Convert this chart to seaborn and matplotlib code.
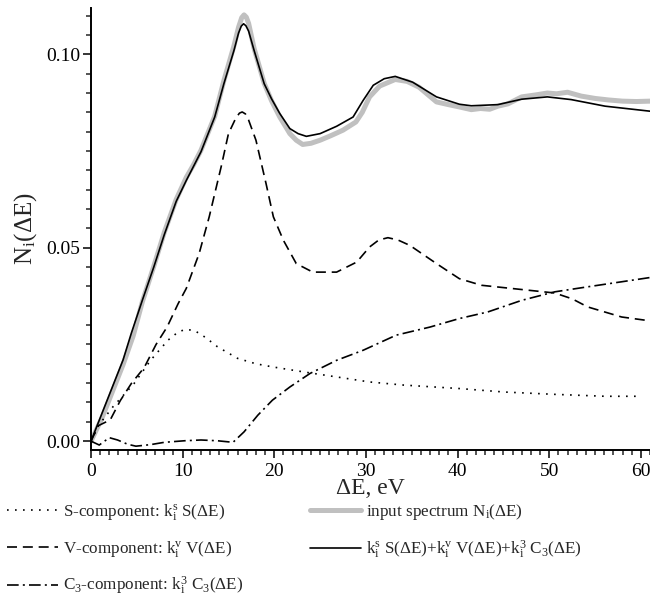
import matplotlib
matplotlib.use("Agg")
import matplotlib.pyplot as plt
import seaborn as sns
from matplotlib.ticker import MultipleLocator, FormatStrFormatter

# === Data (energy loss in eV, intensity) ===
E_fit = [0, 1.2, 2.5, 3.5, 4.4, 5.6, 6.85, 8.0, 9.3, 10.4, 12.0, 13.5, 14.5, 15.6,
         16.1, 16.4, 16.65, 16.9, 17.2, 17.8, 18.9, 19.7, 20.6, 21.7, 22.6, 23.5,
         25.0, 26.8, 28.6, 29.7, 30.8, 32.0, 33.2, 35.1, 37.7, 40.2, 41.5, 44.4,
         47.0, 49.8, 52.4, 56.1, 61.0]
N_fit = [0, 0.0072, 0.015, 0.021, 0.0279, 0.0364, 0.045, 0.0534, 0.062, 0.0674,
         0.0748, 0.0838, 0.0924, 0.101, 0.1055, 0.1073, 0.1079, 0.1074, 0.1060,
         0.101, 0.0924, 0.0885, 0.0847, 0.0808, 0.0795, 0.0788, 0.0795, 0.0814,
         0.0838, 0.0881, 0.0920, 0.0937, 0.0943, 0.0928, 0.0890, 0.0871, 0.0867,
         0.0870, 0.0884, 0.0890, 0.0883, 0.0866, 0.0853]

E_in = [0, 1.2, 2.5, 3.5, 4.6, 5.6, 6.85, 8.0, 9.3, 10.4, 11.2, 12.0, 13.5, 14.5,
        15.6, 16.1, 16.45, 16.7, 16.95, 17.2, 17.8, 18.9, 19.7, 20.6, 21.7, 22.4,
        23.1, 24.0, 25.0, 26.2, 27.5, 28.9, 29.6, 30.4, 31.5, 33.2, 34.5, 35.8,
        37.7, 39.0, 40.2, 41.5, 42.5, 43.5, 44.4, 45.5, 47.0, 48.5, 49.8, 50.8,
        52.0, 53.5, 55.0, 56.5, 58.0, 59.5, 61.0]
N_in = [0, 0.006, 0.0138, 0.0198, 0.0272, 0.036, 0.0452, 0.054, 0.0625, 0.0682,
        0.0715, 0.0752, 0.084, 0.0932, 0.1022, 0.107, 0.1095, 0.1102, 0.1096,
        0.1080, 0.1015, 0.0925, 0.0880, 0.0838, 0.0795, 0.0778, 0.0767, 0.0770,
        0.0778, 0.0790, 0.0804, 0.0825, 0.0850, 0.0890, 0.0918, 0.0935, 0.0930,
        0.0915, 0.0877, 0.0870, 0.0864, 0.0857, 0.0860, 0.0858, 0.0866, 0.0872,
        0.0890, 0.0895, 0.0900, 0.0898, 0.0902, 0.0892, 0.0886, 0.0882, 0.0879,
        0.0878, 0.0879]

E_v = [0, 0.8, 2.1, 3.2, 4.4, 5.8, 7.1, 8.3, 9.5, 10.4, 11.8, 12.9, 14.2, 15.0,
       15.8, 16.2, 16.5, 16.85, 17.2, 18.0, 19.1, 19.9, 21.0, 22.4, 24.2, 26.8,
       29.0, 30.4, 31.4, 32.4, 33.5, 34.8, 37.7, 40.2, 42.6, 47.0, 50.6, 52.5,
       54.2, 57.9, 61.0]
N_v = [0, 0.004, 0.0055, 0.0105, 0.0149, 0.019, 0.025, 0.0295, 0.0355, 0.0395,
       0.0485, 0.058, 0.0709, 0.0795, 0.0835, 0.0848, 0.0851, 0.0846, 0.0830,
       0.0778, 0.0666, 0.058, 0.0519, 0.0459, 0.0437, 0.0437, 0.0463, 0.0502,
       0.0520, 0.0526, 0.0520, 0.0506, 0.0459, 0.0420, 0.0403, 0.0392, 0.0383,
       0.0368, 0.0347, 0.0321, 0.0311]

E_s = [0, 0.8, 2.4, 4.7, 6.5, 8.4, 9.5, 10.3, 11.3, 12.5, 13.8, 16.0, 18.0, 19.8,
       23.2, 26.8, 30.4, 34.1, 40.2, 45.1, 50.6, 56.1, 60.1]
N_s = [0, 0.004, 0.0089, 0.0149, 0.0209, 0.0261, 0.0282, 0.0289, 0.0286, 0.0268,
       0.0244, 0.0214, 0.0200, 0.0192, 0.0179, 0.0166, 0.0153, 0.0145, 0.0136,
       0.0127, 0.0121, 0.0116, 0.0116]

E_c = [0, 0.9, 2.0, 2.9, 4.0, 4.9, 6.5, 8.0, 10.2, 12.0, 13.8, 15.5, 16.7, 18.2,
       19.8, 21.7, 23.9, 26.8, 29.7, 33.3, 37.0, 40.2, 43.3, 47.0, 50.6, 54.2,
       57.9, 61.0]
N_c = [0, -0.001, 0.0009, 0.0003, -0.0008, -0.0013, -0.0009, -0.0003, 0.0001,
       0.0003, 0.0001, -0.0003, 0.0024, 0.0067, 0.0106, 0.0140, 0.0175, 0.0209,
       0.0235, 0.0274, 0.0295, 0.0317, 0.0334, 0.0364, 0.0386, 0.0399, 0.0412,
       0.0423]

LBL_S = r"S-component: $\mathregular{k^{s}_{i}}$ S(ΔE)"
LBL_V = r"V-component: $\mathregular{k^{v}_{i}}$ V(ΔE)"
LBL_C = r"$\mathregular{C_{3}}$-component: $\mathregular{k^{3}_{i}}$ $\mathregular{C_{3}}$(ΔE)"
LBL_IN = r"input spectrum $\mathregular{N_{i}}$(ΔE)"
LBL_FIT = (r"$\mathregular{k^{s}_{i}}$ S(ΔE)+$\mathregular{k^{v}_{i}}$ V(ΔE)+"
           r"$\mathregular{k^{3}_{i}}$ $\mathregular{C_{3}}$(ΔE)")

# === Style ===
sns.set_theme(style="ticks")
plt.rcParams["font.family"] = ["Liberation Serif", "DejaVu Serif"]
plt.rcParams["mathtext.fontset"] = "custom"
plt.rcParams["mathtext.rm"] = "Liberation Serif"

fig = plt.figure(figsize=(6.5, 6.09), dpi=100)
ax = fig.add_axes([0.14, 0.261, 0.86, 0.726])

# === Curves ===
sns.lineplot(x=E_in, y=N_in, ax=ax, color="#c0c0c0", lw=3.6, label=LBL_IN, sort=False)
sns.lineplot(x=E_fit, y=N_fit, ax=ax, color="black", lw=1.2, label=LBL_FIT, sort=False)
sns.lineplot(x=E_s, y=N_s, ax=ax, color="black", lw=1.2, linestyle=(0, (1, 3.8)),
             label=LBL_S, sort=False)
sns.lineplot(x=E_v, y=N_v, ax=ax, color="black", lw=1.2, linestyle=(0, (6, 3.5)),
             label=LBL_V, sort=False)
sns.lineplot(x=E_c, y=N_c, ax=ax, color="black", lw=1.2,
             linestyle=(0, (7, 2.5, 1.2, 2.5)), label=LBL_C, sort=False)

# === Axes ===
ax.set_xlim(0, 61)
ax.set_ylim(-0.0023, 0.112)
ax.xaxis.set_major_locator(MultipleLocator(10))
ax.xaxis.set_minor_locator(MultipleLocator(1))
ax.yaxis.set_major_locator(MultipleLocator(0.05))
ax.yaxis.set_minor_locator(MultipleLocator(0.005))
ax.yaxis.set_major_formatter(FormatStrFormatter("%.2f"))
ax.tick_params(which="major", direction="out", length=6, width=1.1,
               labelsize=14, colors="black", pad=2)
ax.tick_params(axis="x", which="major", pad=3)
ax.tick_params(which="minor", direction="out", length=3.5, width=1.1)
for side in ["top", "right"]:
    ax.spines[side].set_visible(False)
for side in ["left", "bottom"]:
    ax.spines[side].set_linewidth(1.4)
    ax.spines[side].set_color("black")

ax.set_xlabel("ΔE, eV", fontsize=17, labelpad=-1)
ax.set_ylabel(r"$\mathregular{N_{i}}$(ΔE)", fontsize=18, labelpad=5)

# === Legend (below the axes, two columns) ===
h, l = ax.get_legend_handles_labels()
order = [LBL_S, LBL_V, LBL_C, LBL_IN, LBL_FIT]
hmap = dict(zip(l, h))
ax.legend([hmap[k] for k in order], order, loc="upper left",
          bbox_to_anchor=(0.01, 0.176), bbox_transform=fig.transFigure,
          ncol=2, frameon=False, fontsize=12.3, handlelength=3.0,
          handletextpad=0.3, columnspacing=3.9, labelspacing=0.98,
          borderpad=0, borderaxespad=0)

fig.savefig("out.png", dpi=100)
